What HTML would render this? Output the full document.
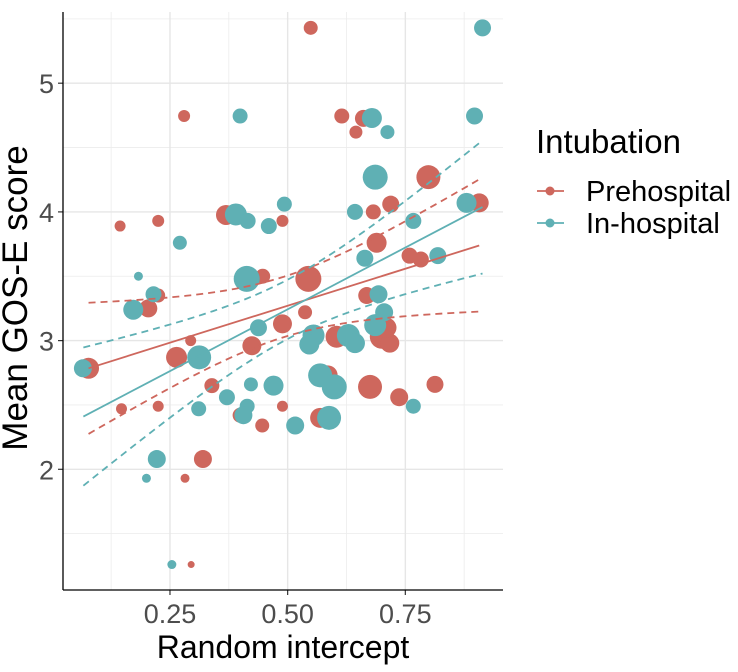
<!DOCTYPE html>
<html><head><meta charset="utf-8"><style>
body{margin:0;background:#fff;}
svg{font-family:"Liberation Sans",sans-serif;}
</style></head><body>
<svg id="chart" width="738" height="667" viewBox="0 0 738 667" xmlns="http://www.w3.org/2000/svg">
<g id="grid"></g>
<g id="marks"></g>
<g id="axes"></g>
<text x="283" y="658" font-size="32" text-anchor="middle" fill="#000">Random intercept</text>
<text transform="translate(27,298) rotate(-90)" font-size="35" text-anchor="middle" fill="#000">Mean GOS-E score</text>
<g>
<text x="536" y="153" font-size="33" fill="#000">Intubation</text>
<g>
<line x1="537" y1="191" x2="564" y2="191" stroke="#CE675D" stroke-width="1.8"/>
<circle cx="550" cy="191" r="4.5" fill="#CE675D"/>
<text x="586" y="201" font-size="29" fill="#000">Prehospital</text>
</g>
<g>
<line x1="537" y1="223" x2="564" y2="223" stroke="#5FB0B4" stroke-width="1.8"/>
<circle cx="550" cy="223" r="4.5" fill="#5FB0B4"/>
<text x="586" y="233" font-size="29" fill="#000">In-hospital</text>
</g>
</g>
</svg>
<script>
// data (x = random intercept, y = mean GOS-E, s = point size)
const preX=[.549,.280,.615,.661,.645,.799,.907,.719,.682,.369,.489,.144,.225,.689,.759,.783,.544,.447,.668,.225,.204,.537,.077,.264,.294,.339,.424,.489,.604,.700,.717,.710,.585,.675,.737,.813,.147,.225,.399,.489,.446,.569,.320,.282,.295];
const preY=[5.43,4.745,4.745,4.727,4.62,4.27,4.07,4.06,4.0,3.976,3.93,3.89,3.93,3.76,3.66,3.63,3.48,3.50,3.35,3.35,3.25,3.22,2.785,2.87,3.0,2.65,2.96,3.13,3.03,3.03,2.98,3.10,2.73,2.64,2.56,2.66,2.47,2.49,2.42,2.49,2.34,2.40,2.08,1.93,1.26];
const preS=[7,6,7.5,8.5,6.5,12,9.5,8.5,7.5,10,6,5.5,6,10,8,8,13,7.5,8.5,7,9,7,10.5,10.5,5.5,7.5,9.5,9.5,11,12,9.5,10,10,12,9,8.5,5.5,5.5,7.5,5.5,7,10,9,4.5,3.5];
const inX=[.914,.399,.679,.712,.897,.686,.880,.493,.643,.390,.415,.460,.271,.767,.664,.819,.183,.413,.215,.693,.172,.705,.438,.686,.555,.546,.629,.643,.065,.312,.422,.470,.371,.311,.414,.406,.516,.569,.599,.588,.767,.222,.200,.254];
const inY=[5.43,4.745,4.73,4.62,4.745,4.27,4.07,4.06,4.0,3.98,3.93,3.89,3.76,3.93,3.64,3.66,3.50,3.48,3.36,3.36,3.24,3.22,3.10,3.12,3.04,2.97,3.04,2.98,2.785,2.87,2.66,2.65,2.56,2.47,2.49,2.42,2.34,2.73,2.64,2.40,2.49,2.08,1.93,1.26];
const inS=[8.5,7.5,10,7,8.5,12.5,10,7.5,8,11,8,8,7,8,8.5,8.5,4.5,13,8,9,10,9,8.5,11,11,10,11.5,10,9,12,7,10,8,7.5,7.5,9,9,12,12.5,12,7.5,9,4.5,4.5];
// regression fits: [x start, x end, intercept, slope, ciA, ciB, ciCenter]
const preFit=[0.077,0.907,2.696,1.15,0.055,1.2,0.49];
const inFit=[0.066,0.914,2.283,1.92,0.053,1.25,0.50];
const xTicks=[0.25,0.50,0.75];
const xTickLabels=["0.25","0.50","0.75"];
const yTicks=[2,3,4,5];
const yTickLabels=["2","3","4","5"];

const L=63,R=503,T=12,B=590;
const sx=v=>52.3+470.7*v;
const sy=v=>469.3-128.7*(v-2);
const NS="http://www.w3.org/2000/svg";
function mk(tag,parent,attrs){const e=document.createElementNS(NS,tag);for(const k in attrs)e.setAttribute(k,attrs[k]);parent.appendChild(e);return e;}
const grid=document.getElementById('grid'),marks=document.getElementById('marks'),axes=document.getElementById('axes');
mk('rect',grid,{x:L,y:T,width:R-L,height:B-T,fill:'#fff'});
for(let i=0;i<xTicks.length+1;i++){const v=xTicks[0]-0.125+0.25*i;const l=mk('line',grid,{x1:sx(v),x2:sx(v),y1:T,y2:B,stroke:'#ececec','stroke-width':0.8});}
for(let i=0;i<yTicks.length+1;i++){const v=yTicks[0]-0.5+i;if(sy(v)<T)continue;const l=mk('line',grid,{x1:L,x2:R,y1:sy(v),y2:sy(v),stroke:'#ececec','stroke-width':0.8});}
xTicks.forEach((v,i)=>{const l=mk('line',grid,{x1:sx(v),x2:sx(v),y1:T,y2:B,stroke:'#e6e6e6','stroke-width':1.4});
 const t=mk('line',axes,{x1:sx(v),x2:sx(v),y1:B,y2:B+5,stroke:'#333','stroke-width':1.2});
 const tx=mk('text',axes,{x:sx(v),y:623,'font-size':27,'text-anchor':'middle',fill:'#4d4d4d'});tx.textContent=xTickLabels[i];});
yTicks.forEach((v,i)=>{const l=mk('line',grid,{x1:L,x2:R,y1:sy(v),y2:sy(v),stroke:'#e6e6e6','stroke-width':1.4});
 const t=mk('line',axes,{x1:L-5,x2:L,y1:sy(v),y2:sy(v),stroke:'#333','stroke-width':1.2});
 const tx=mk('text',axes,{x:L-9,y:sy(v)+10,'font-size':27,'text-anchor':'end',fill:'#4d4d4d'});tx.textContent=yTickLabels[i];});
const ax1=mk('line',axes,{x1:L,x2:L,y1:T,y2:B,stroke:'#000','stroke-width':1.3});
const ax2=mk('line',axes,{x1:L,x2:R,y1:B,y2:B,stroke:'#000','stroke-width':1.3});

function points(xs,ys,ss,col,name){xs.forEach((x,i)=>{const c=mk('circle',marks,{cx:sx(x),cy:sy(ys[i]),r:ss[i],fill:col});});}
function fit(f,col,name){const [x0,x1,a,b,ca,cb,cm]=f;let pu=[],pl=[];
 for(let k=0;k<=40;k++){const x=x0+(x1-x0)*k/40;const y=a+b*x;const h=Math.sqrt(ca+cb*(x-cm)*(x-cm));pu.push(sx(x)+','+sy(y+h));pl.push(sx(x)+','+sy(y-h));}
 const l=mk('line',marks,{x1:sx(x0),y1:sy(a+b*x0),x2:sx(x1),y2:sy(a+b*x1),stroke:col,'stroke-width':1.8});
 const u=mk('polyline',marks,{points:pu.join(' '),fill:'none',stroke:col,'stroke-width':1.8,'stroke-dasharray':'7,5'});
 const d=mk('polyline',marks,{points:pl.join(' '),fill:'none',stroke:col,'stroke-width':1.8,'stroke-dasharray':'7,5'});}
points(preX,preY,preS,'#CE675D','prehospital-point');
points(inX,inY,inS,'#5FB0B4','in-hospital-point');
fit(preFit,'#CE675D','prehospital');
fit(inFit,'#5FB0B4','in-hospital');
</script>
</body></html>
